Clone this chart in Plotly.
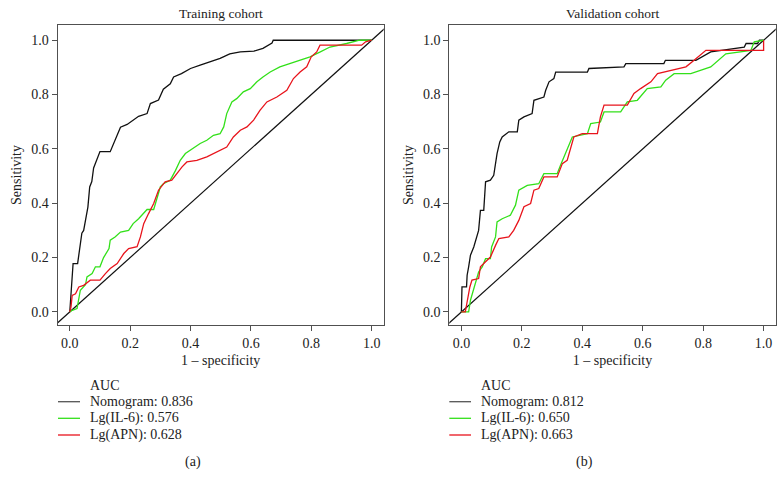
import plotly.graph_objects as go

# ---------------- data ----------------
# Training cohort
train_nomo_x = [0, 0.004, 0.011, 0.026, 0.04, 0.046, 0.06, 0.066, 0.073, 0.079, 0.09, 0.10, 0.134, 0.145, 0.157,
                0.168, 0.19, 0.21, 0.228, 0.256, 0.267, 0.294, 0.31, 0.333, 0.344, 0.37, 0.40, 0.432, 0.465,
                0.498, 0.53, 0.565, 0.61, 0.64, 0.67, 0.674, 0.72, 1.0]
train_nomo_y = [0, 0.08, 0.178, 0.178, 0.29, 0.30, 0.386, 0.46, 0.48, 0.53, 0.56, 0.59, 0.59, 0.62, 0.65,
                0.68, 0.69, 0.705, 0.72, 0.73, 0.767, 0.78, 0.82, 0.84, 0.865, 0.877, 0.896, 0.908, 0.92,
                0.933, 0.95, 0.957, 0.96, 0.97, 0.99, 1.0, 1.0, 1.0]

train_il6_x = [0, 0.008, 0.024, 0.03, 0.035, 0.052, 0.057, 0.074, 0.085, 0.10, 0.112, 0.13, 0.134, 0.15, 0.168,
               0.195, 0.21, 0.228, 0.245, 0.256, 0.278, 0.289, 0.30, 0.31, 0.333, 0.35, 0.366, 0.383, 0.405,
               0.432, 0.454, 0.476, 0.498, 0.51, 0.52, 0.537, 0.553, 0.575, 0.598, 0.62, 0.64, 0.664, 0.696,
               0.73, 0.763, 0.796, 0.83, 0.862, 0.917, 0.96, 1.0]
train_il6_y = [0, 0.006, 0.0125, 0.055, 0.08, 0.10, 0.129, 0.141, 0.166, 0.166, 0.20, 0.233, 0.264, 0.276, 0.294,
               0.30, 0.325, 0.343, 0.362, 0.377, 0.377, 0.423, 0.46, 0.472, 0.485, 0.52, 0.558, 0.583, 0.60,
               0.62, 0.632, 0.65, 0.656, 0.681, 0.73, 0.773, 0.785, 0.81, 0.822, 0.847, 0.865, 0.883, 0.902,
               0.914, 0.926, 0.939, 0.957, 0.975, 0.988, 1.0, 1.0]

train_apn_x = [0, 0.004, 0.008, 0.019, 0.03, 0.046, 0.068, 0.10, 0.118, 0.134, 0.157, 0.179, 0.195, 0.223,
               0.234, 0.245, 0.261, 0.278, 0.294, 0.316, 0.338, 0.355, 0.372, 0.388, 0.421, 0.454, 0.487,
               0.52, 0.542, 0.565, 0.587, 0.609, 0.63, 0.653, 0.686, 0.719, 0.741, 0.763, 0.785, 0.80,
               0.818, 0.829, 0.873, 0.967, 0.98, 1.0]
train_apn_y = [0, 0.018, 0.061, 0.067, 0.092, 0.098, 0.117, 0.117, 0.141, 0.16, 0.178, 0.215, 0.233, 0.24,
               0.276, 0.325, 0.362, 0.399, 0.448, 0.479, 0.485, 0.509, 0.534, 0.552, 0.558, 0.571, 0.589,
               0.607, 0.644, 0.669, 0.681, 0.706, 0.742, 0.773, 0.791, 0.816, 0.859, 0.883, 0.902, 0.939,
               0.957, 0.982, 0.982, 0.982, 0.994, 1.0]

# Validation cohort
valid_nomo_x = [0, 0.002, 0.017, 0.019, 0.024, 0.03, 0.041, 0.05, 0.057, 0.063, 0.074, 0.08, 0.096, 0.107,
                0.113, 0.118, 0.127, 0.135, 0.157, 0.185, 0.19, 0.207, 0.234, 0.24, 0.273, 0.279, 0.29,
                0.306, 0.312, 0.417, 0.422, 0.538, 0.544, 0.67, 0.675, 0.776, 0.825, 0.936, 0.942, 0.98,
                0.986, 1.0]
valid_nomo_y = [0, 0.092, 0.092, 0.135, 0.166, 0.209, 0.239, 0.27, 0.30, 0.374, 0.374, 0.479, 0.485, 0.503,
                0.558, 0.583, 0.626, 0.644, 0.663, 0.663, 0.706, 0.718, 0.73, 0.779, 0.791, 0.816, 0.847,
                0.859, 0.883, 0.883, 0.896, 0.902, 0.914, 0.914, 0.926, 0.926, 0.957, 0.975, 0.988, 0.988,
                1.0, 1.0]

valid_il6_x = [0, 0.024, 0.03, 0.046, 0.057, 0.069, 0.08, 0.096, 0.10, 0.113, 0.118, 0.135, 0.162, 0.179,
               0.19, 0.218, 0.256, 0.273, 0.317, 0.328, 0.345, 0.367, 0.417, 0.428, 0.46, 0.472, 0.527,
               0.549, 0.582, 0.615, 0.66, 0.676, 0.704, 0.759, 0.825, 0.875, 0.958, 0.969, 1.0]
valid_il6_y = [0, 0, 0.043, 0.104, 0.147, 0.166, 0.196, 0.196, 0.239, 0.276, 0.331, 0.343, 0.356, 0.393,
               0.448, 0.466, 0.472, 0.509, 0.509, 0.54, 0.583, 0.644, 0.656, 0.693, 0.699, 0.736, 0.736,
               0.773, 0.779, 0.822, 0.828, 0.853, 0.877, 0.877, 0.902, 0.95, 0.963, 0.994, 1.0]

valid_apn_x = [0, 0.013, 0.028, 0.035, 0.057, 0.063, 0.074, 0.096, 0.113, 0.124, 0.157, 0.173, 0.19, 0.207,
               0.229, 0.24, 0.256, 0.273, 0.317, 0.334, 0.35, 0.372, 0.40, 0.45, 0.46, 0.472, 0.549, 0.571,
               0.593, 0.627, 0.649, 0.704, 0.743, 0.77, 0.809, 0.875, 1.0, 1.0]
valid_apn_y = [0, 0, 0.092, 0.117, 0.123, 0.166, 0.178, 0.202, 0.245, 0.27, 0.276, 0.30, 0.337, 0.387,
               0.399, 0.448, 0.454, 0.497, 0.497, 0.546, 0.558, 0.644, 0.656, 0.656, 0.718, 0.761, 0.761,
               0.804, 0.822, 0.847, 0.877, 0.89, 0.902, 0.926, 0.963, 0.963, 0.963, 1.0]

chance_line = [-1, 2]  # identity (y = x) reference line, clipped by the axes

panel_titles = ["Training cohort", "Validation cohort"]
panel_tags = ["(a)", "(b)"]
series_names = ["Nomogram", "Lg(IL-6)", "Lg(APN)"]
auc_train = ["0.836", "0.576", "0.628"]
auc_valid = ["0.812", "0.650", "0.663"]
tick_vals = [0.0, 0.2, 0.4, 0.6, 0.8, 1.0]
tick_text = ["0.0", "0.2", "0.4", "0.6", "0.8", "1.0"]

# ---------------- styling ----------------
W, H = 784, 488
FONT = "Liberation Serif"
TXT = "#222222"
colors = ["#111111", "#33e01a", "#e8141c"]
frame = "#505050"


def px(v):
    return v / W


def py(v):
    return 1 - v / H


fig = go.Figure()

panels = [
    (("x", "y"), [(train_nomo_x, train_nomo_y), (train_il6_x, train_il6_y), (train_apn_x, train_apn_y)]),
    (("x2", "y2"), [(valid_nomo_x, valid_nomo_y), (valid_il6_x, valid_il6_y), (valid_apn_x, valid_apn_y)]),
]

for (xa, ya), curves in panels:
    fig.add_trace(go.Scatter(x=chance_line, y=chance_line, mode="lines", xaxis=xa, yaxis=ya,
                             line=dict(color="#111111", width=1.2), showlegend=False, hoverinfo="skip"))
    for (cx, cy), col, name in zip(curves, colors, series_names):
        fig.add_trace(go.Scatter(x=cx, y=cy, mode="lines", xaxis=xa, yaxis=ya, name=name,
                                 line=dict(color=col, width=1.3), showlegend=False))

ydom = [py(324.7), py(25.3)]
xdoms = [[px(57.7), px(383.7)], [px(449.3), px(775.7)]]

axis_common = dict(
    showline=True, mirror=True, linecolor=frame, linewidth=1.2,
    ticks="outside", ticklen=5, tickcolor=frame, tickwidth=1,
    showgrid=False, zeroline=False, automargin=False,
    tickvals=tick_vals, ticktext=tick_text,
    tickfont=dict(family=FONT, size=14, color=TXT),
)

layout = dict(
    width=W, height=H,
    margin=dict(l=0, r=0, t=0, b=0, autoexpand=False),
    paper_bgcolor="white", plot_bgcolor="white",
    showlegend=False,
    font=dict(family=FONT, size=14, color=TXT),
)
for i, suffix in enumerate(["", "2"]):
    layout["xaxis" + suffix] = dict(axis_common, domain=xdoms[i], range=[-0.04, 1.04],
                                    anchor="y" + suffix,
                                    title=dict(text="1 \u2013 specificity", standoff=5,
                                               font=dict(family=FONT, size=14, color=TXT)))
    layout["yaxis" + suffix] = dict(axis_common, domain=ydom, range=[-0.047, 1.055],
                                    anchor="x" + suffix,
                                    title=dict(text="Sensitivity", standoff=6,
                                               font=dict(family=FONT, size=14, color=TXT)))
fig.update_layout(**layout)

annotations = []
shapes = []
legend_line_x = [(58, 80), (449.3, 471)]
legend_text_x = [88, 479.3]
aucs = [auc_train, auc_valid]
entry_y = [401.7, 418.3, 435]
for i in range(2):
    cx = (xdoms[i][0] + xdoms[i][1]) / 2
    annotations.append(dict(text=panel_titles[i], x=cx, y=py(13), xref="paper", yref="paper",
                            showarrow=False, xanchor="center", yanchor="middle",
                            font=dict(family=FONT, size=13.5, color=TXT)))
    annotations.append(dict(text=panel_tags[i], x=cx - px(28), y=py(462), xref="paper", yref="paper",
                            showarrow=False, xanchor="center", yanchor="middle",
                            font=dict(family=FONT, size=14, color=TXT)))
    annotations.append(dict(text="AUC", x=px(legend_text_x[i]), y=py(385), xref="paper", yref="paper",
                            showarrow=False, xanchor="left", yanchor="middle",
                            font=dict(family=FONT, size=14, color=TXT)))
    for j in range(3):
        annotations.append(dict(text=f"{series_names[j]}: {aucs[i][j]}", x=px(legend_text_x[i]),
                                y=py(entry_y[j]), xref="paper", yref="paper", showarrow=False,
                                xanchor="left", yanchor="middle",
                                font=dict(family=FONT, size=14, color=TXT)))
        shapes.append(dict(type="line", xref="paper", yref="paper",
                           x0=px(legend_line_x[i][0]), x1=px(legend_line_x[i][1]),
                           y0=py(entry_y[j]), y1=py(entry_y[j]),
                           line=dict(color=colors[j] if j else "#555555", width=1.3)))
fig.update_layout(annotations=annotations, shapes=shapes)

fig.write_html("out.html",
               config={"displayModeBar": False},
               post_script="document.body.style.margin='0';document.body.style.padding='0';")
